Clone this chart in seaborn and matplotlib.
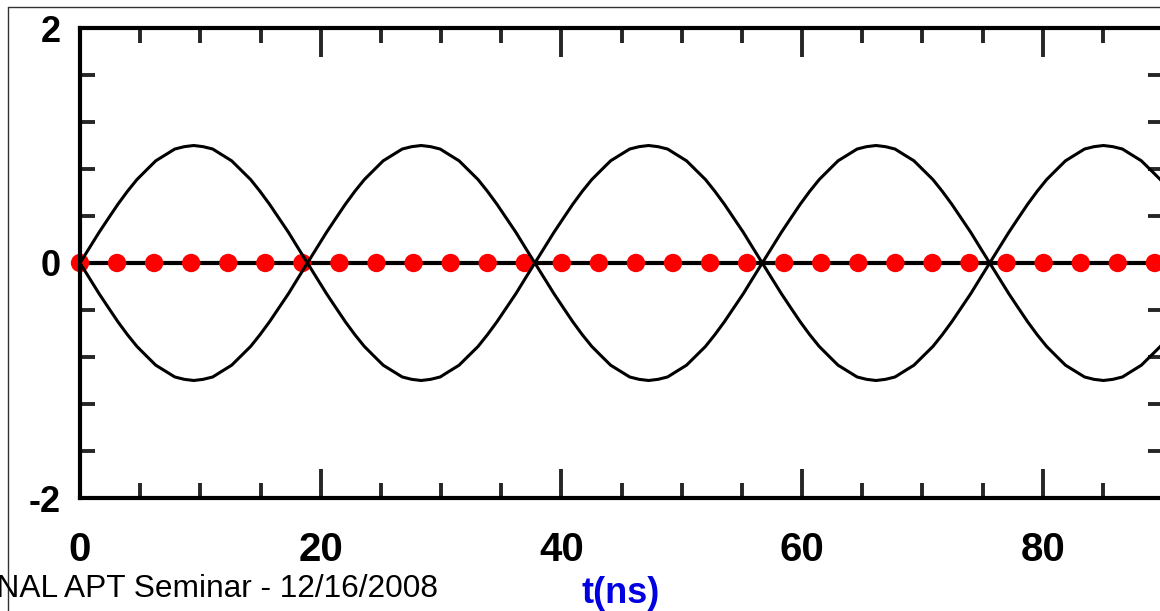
import matplotlib
matplotlib.use("Agg")
import matplotlib.pyplot as plt
import seaborn as sns
import pandas as pd
from matplotlib.lines import Line2D
from matplotlib.ticker import MultipleLocator

t_curve = [0.0, 0.79, 1.58, 2.36, 3.15, 3.94, 4.73, 5.51, 6.3, 7.09, 7.88, 8.66, 9.45,
           10.24, 11.03, 11.81, 12.6, 13.39, 14.18, 14.96, 15.75, 16.54, 17.33, 18.11, 18.9,
           19.69, 20.48, 21.26, 22.05, 22.84, 23.63, 24.41, 25.2, 25.99, 26.78, 27.56, 28.35,
           29.14, 29.93, 30.71, 31.5, 32.29, 33.08, 33.86, 34.65, 35.44, 36.23, 37.01, 37.8,
           38.59, 39.38, 40.16, 40.95, 41.74, 42.53, 43.31, 44.1, 44.89, 45.68, 46.46, 47.25,
           48.04, 48.83, 49.61, 50.4, 51.19, 51.98, 52.76, 53.55, 54.34, 55.13, 55.91, 56.7,
           57.49, 58.28, 59.06, 59.85, 60.64, 61.43, 62.21, 63.0, 63.79, 64.58, 65.36, 66.15,
           66.94, 67.73, 68.51, 69.3, 70.09, 70.88, 71.66, 72.45, 73.24, 74.03, 74.81, 75.6,
           76.39, 77.18, 77.96, 78.75, 79.54, 80.33, 81.11, 81.9, 82.69, 83.48, 84.26, 85.05,
           85.84, 86.63, 87.41, 88.2, 88.99, 89.78, 90.56, 91.35]
upper = [0.0, 0.13, 0.26, 0.38, 0.5, 0.61, 0.71, 0.79, 0.87, 0.92, 0.97, 0.99, 1.0,
         0.99, 0.97, 0.92, 0.87, 0.79, 0.71, 0.61, 0.5, 0.38, 0.26, 0.13, 0.0,
         -0.13, -0.26, -0.38, -0.5, -0.61, -0.71, -0.79, -0.87, -0.92, -0.97, -0.99, -1.0,
         -0.99, -0.97, -0.92, -0.87, -0.79, -0.71, -0.61, -0.5, -0.38, -0.26, -0.13, 0.0,
         0.13, 0.26, 0.38, 0.5, 0.61, 0.71, 0.79, 0.87, 0.92, 0.97, 0.99, 1.0,
         0.99, 0.97, 0.92, 0.87, 0.79, 0.71, 0.61, 0.5, 0.38, 0.26, 0.13, 0.0,
         -0.13, -0.26, -0.38, -0.5, -0.61, -0.71, -0.79, -0.87, -0.92, -0.97, -0.99, -1.0,
         -0.99, -0.97, -0.92, -0.87, -0.79, -0.71, -0.61, -0.5, -0.38, -0.26, -0.13, 0.0,
         0.13, 0.26, 0.38, 0.5, 0.61, 0.71, 0.79, 0.87, 0.92, 0.97, 0.99, 1.0,
         0.99, 0.97, 0.92, 0.87, 0.79, 0.71, 0.61, 0.5]
lower = [0.0, -0.13, -0.26, -0.38, -0.5, -0.61, -0.71, -0.79, -0.87, -0.92, -0.97, -0.99, -1.0,
         -0.99, -0.97, -0.92, -0.87, -0.79, -0.71, -0.61, -0.5, -0.38, -0.26, -0.13, 0.0,
         0.13, 0.26, 0.38, 0.5, 0.61, 0.71, 0.79, 0.87, 0.92, 0.97, 0.99, 1.0,
         0.99, 0.97, 0.92, 0.87, 0.79, 0.71, 0.61, 0.5, 0.38, 0.26, 0.13, 0.0,
         -0.13, -0.26, -0.38, -0.5, -0.61, -0.71, -0.79, -0.87, -0.92, -0.97, -0.99, -1.0,
         -0.99, -0.97, -0.92, -0.87, -0.79, -0.71, -0.61, -0.5, -0.38, -0.26, -0.13, 0.0,
         0.13, 0.26, 0.38, 0.5, 0.61, 0.71, 0.79, 0.87, 0.92, 0.97, 0.99, 1.0,
         0.99, 0.97, 0.92, 0.87, 0.79, 0.71, 0.61, 0.5, 0.38, 0.26, 0.13, 0.0,
         -0.13, -0.26, -0.38, -0.5, -0.61, -0.71, -0.79, -0.87, -0.92, -0.97, -0.99, -1.0,
         -0.99, -0.97, -0.92, -0.87, -0.79, -0.71, -0.61, -0.5]

# red points on the axis
t_dots = [0.0, 3.08, 6.16, 9.24, 12.32, 15.4, 18.48, 21.56, 24.64, 27.72, 30.8, 33.88,
          36.96, 40.04, 43.12, 46.2, 49.28, 52.36, 55.44, 58.52, 61.6, 64.68, 67.76,
          70.84, 73.92, 77.0, 80.08, 83.16, 86.24, 89.32]
y_dots = [0.0] * len(t_dots)

x_ticks = [0, 20, 40, 60, 80]
y_ticks = [-2, 0, 2]

sns.set_style("ticks")
plt.rcParams['font.family'] = ['Liberation Sans', 'DejaVu Sans']
plt.rcParams['axes.unicode_minus'] = False

fig = plt.figure(figsize=(11.6, 6.11), dpi=100)
ax = fig.add_axes([80 / 1160, 1 - 498 / 611, (1163 - 80) / 1160, (498 - 28) / 611])

curves = pd.DataFrame({'t': t_curve + t_curve,
                       'v': upper + lower,
                       'curve': ['a'] * len(t_curve) + ['b'] * len(t_curve)})
dots = pd.DataFrame({'t': t_dots, 'v': y_dots})

ax.axhline(0, color='black', lw=3.0, zorder=2)
sns.scatterplot(data=dots, x='t', y='v', color='#ff0000', s=175, edgecolor='none',
                ax=ax, zorder=2.4, clip_on=False)
sns.lineplot(data=curves, x='t', y='v', units='curve', estimator=None, color='black',
             lw=2.2, ax=ax, zorder=4, sort=False)

ax.set_xlim(0, 90)
ax.set_ylim(-2, 2)
ax.set_xticks(x_ticks)
ax.xaxis.set_minor_locator(MultipleLocator(5))
ax.set_yticks(y_ticks)
ax.yaxis.set_minor_locator(MultipleLocator(0.4))
ax.set_xlabel('')
ax.set_ylabel('')

for s in ax.spines.values():
    s.set_linewidth(3)
    s.set_color('black')

ax.tick_params(axis='x', which='major', direction='in', length=21, width=2.8,
               top=True, bottom=True, pad=24, labelsize=29)
ax.tick_params(axis='x', which='minor', direction='in', length=11, width=2.8,
               top=True, bottom=True)
ax.tick_params(axis='y', which='major', direction='in', length=11, width=2.8,
               left=True, right=True, pad=14, labelsize=26)
ax.tick_params(axis='y', which='minor', direction='in', length=11, width=2.8,
               left=True, right=True)
for lab in ax.get_xticklabels() + ax.get_yticklabels():
    lab.set_fontweight('bold')
    lab.set_color('black')

fig.text(438 / 1160, 1 - 597 / 611, 'FNAL APT Seminar - 12/16/2008', ha='right',
         va='baseline', fontsize=22.8, color='black')
fig.text(621 / 1160, 1 - 603 / 611, 't(ns)', ha='center', va='baseline',
         fontsize=26, fontweight='bold', color='#0000e0')

fig.add_artist(Line2D([8 / 1160, 8 / 1160], [0, 1 - 7 / 611], color='#333333', lw=1))
fig.add_artist(Line2D([8 / 1160, 1], [1 - 7 / 611, 1 - 7 / 611], color='#333333', lw=1))

plt.savefig('out.png', dpi=100)
